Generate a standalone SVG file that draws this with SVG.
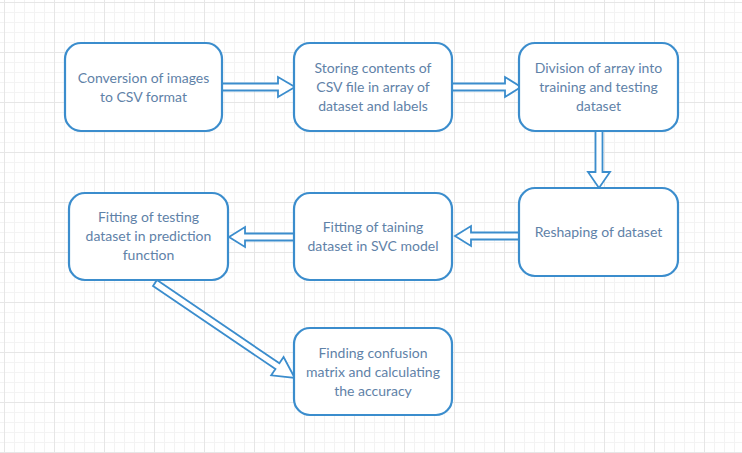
<svg xmlns="http://www.w3.org/2000/svg" width="742" height="453" viewBox="0 0 742 453">
<defs>
<pattern id="minor" width="10" height="10" patternUnits="userSpaceOnUse" x="4" y="2">
<path d="M0 0.5H10M0.5 0V10" fill="none" stroke="#f3f3f3" stroke-width="1"/>
</pattern>
<pattern id="major" width="50" height="50" patternUnits="userSpaceOnUse" x="4" y="2">
<path d="M0 0.5H50M0.5 0V50" fill="none" stroke="#e6e6e6" stroke-width="1"/>
</pattern>
<style>
.box{fill:#ffffff;stroke:#3b8dcd;stroke-width:2.2}
.arr{fill:#ffffff;stroke:#3b8dcd;stroke-width:1.8;stroke-linejoin:miter}
.lbl{font-family:Lato,"Open Sans",sans-serif;font-size:14px;fill:#5f82a8;text-anchor:middle}
</style>
</defs>
<rect width="742" height="453" fill="#ffffff"/>
<rect width="742" height="453" fill="url(#minor)"/>
<rect width="742" height="453" fill="url(#major)"/>

<g id="connectors">
<polygon class="arr" points="222,83.5 278,83.5 278,77 295,87 278,97 278,90.5 222,90.5"/>
<polygon class="arr" points="452,83.5 505,83.5 505,77 521,87 505,97 505,90.5 452,90.5"/>
<polygon class="arr" points="595.5,131 595.5,172 588,172 599,188 610,172 602.5,172 602.5,131"/>
<polygon class="arr" points="519,232.5 471,232.5 471,226 455,236 471,246 471,239.5 519,239.5"/>
<polygon class="arr" points="294,233.5 245,233.5 245,227 229,237 245,247 245,240.5 294,240.5"/>
<polygon class="arr" transform="translate(155,283) rotate(34.2)" points="0,-3.5 148,-3.5 148,-11 169,0 148,11 148,3.5 0,3.5"/>
</g>

<g id="n1"><rect class="box" x="65" y="43" width="157" height="88" rx="16"/>
<text class="lbl" x="143.5" y="83">Conversion of images</text>
<text class="lbl" x="143.5" y="102">to CSV format</text></g>

<g id="n2"><rect class="box" x="294" y="43" width="158" height="88" rx="16"/>
<text class="lbl" x="373" y="73">Storing contents of</text>
<text class="lbl" x="373" y="92">CSV file in array of</text>
<text class="lbl" x="373" y="111">dataset and labels</text></g>

<g id="n3"><rect class="box" x="519" y="43" width="159" height="88" rx="16"/>
<text class="lbl" x="598.5" y="73">Division of array into</text>
<text class="lbl" x="598.5" y="92">training and testing</text>
<text class="lbl" x="598.5" y="111">dataset</text></g>

<g id="n4"><rect class="box" x="519" y="188" width="159" height="88" rx="16"/>
<text class="lbl" x="598.5" y="237">Reshaping of dataset</text></g>

<g id="n5"><rect class="box" x="294" y="193" width="158" height="87" rx="16"/>
<text class="lbl" x="373" y="232">Fitting of taining</text>
<text class="lbl" x="373" y="251">dataset in SVC model</text></g>

<g id="n6"><rect class="box" x="69" y="193" width="159" height="87" rx="16"/>
<text class="lbl" x="148.5" y="222">Fitting of testing</text>
<text class="lbl" x="148.5" y="241">dataset in prediction</text>
<text class="lbl" x="148.5" y="260">function</text></g>

<g id="n7"><rect class="box" x="294" y="328" width="158" height="87" rx="16"/>
<text class="lbl" x="373" y="358">Finding confusion</text>
<text class="lbl" x="373" y="377">matrix and calculating</text>
<text class="lbl" x="373" y="396">the accuracy</text></g>
</svg>
